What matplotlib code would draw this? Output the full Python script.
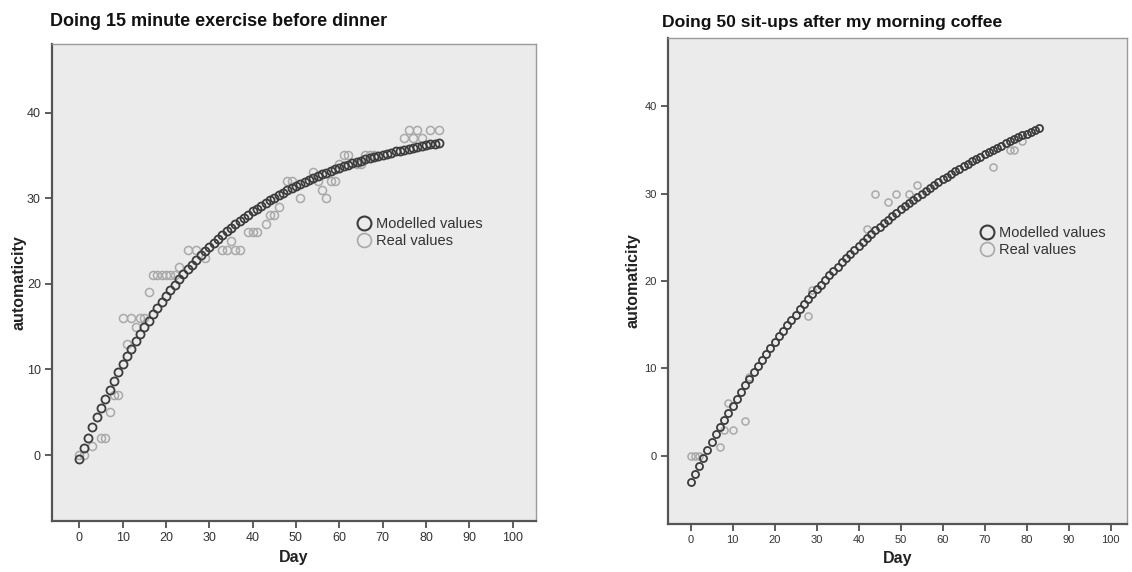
import matplotlib.pyplot as plt
from matplotlib.lines import Line2D

plt.rcParams['font.family'] = ['Liberation Sans', 'DejaVu Sans']

days = list(range(84))

# Doing 15 minute exercise before dinner
model_dinner = [-0.50, 0.78, 2.02, 3.22, 4.39, 5.51, 6.60, 7.65, 8.67, 9.65,
                10.60, 11.52, 12.42, 13.28, 14.11, 14.92, 15.70, 16.46, 17.19, 17.90,
                18.58, 19.25, 19.89, 20.51, 21.11, 21.69, 22.25, 22.80, 23.32, 23.83,
                24.32, 24.80, 25.26, 25.71, 26.14, 26.56, 26.96, 27.35, 27.73, 28.09,
                28.45, 28.79, 29.12, 29.44, 29.75, 30.05, 30.34, 30.62, 30.90, 31.16,
                31.41, 31.66, 31.90, 32.13, 32.35, 32.57, 32.78, 32.98, 33.17, 33.36,
                33.55, 33.72, 33.89, 34.06, 34.22, 34.38, 34.53, 34.67, 34.81, 34.95,
                35.08, 35.21, 35.33, 35.45, 35.56, 35.68, 35.78, 35.89, 35.99, 36.09,
                36.18, 36.27, 36.36, 36.45]
real_dinner_day = [0, 1, 3, 5, 6, 7, 8, 9, 10, 11, 12, 13, 14, 15, 16, 17, 18, 19, 20, 21,
                   22, 23, 25, 27, 29, 33, 34, 35, 36, 37, 39, 40, 41, 43, 44, 45, 46, 48,
                   49, 51, 54, 55, 56, 57, 58, 59, 60, 61, 62, 64, 65, 66, 67, 68, 75, 76,
                   77, 78, 79, 81, 83]
real_dinner_val = [0, 0, 1, 2, 2, 5, 7, 7, 16, 13, 16, 15, 16, 16, 19, 21, 21, 21, 21, 21,
                   21, 22, 24, 24, 23, 24, 24, 25, 24, 24, 26, 26, 26, 27, 28, 28, 29, 32,
                   32, 30, 33, 32, 31, 30, 32, 32, 34, 35, 35, 34, 34, 35, 35, 35, 37, 38,
                   37, 38, 37, 38, 38]

# Doing 50 sit-ups after my morning coffee
model_coffee = [-3.00, -2.05, -1.12, -0.20, 0.70, 1.58, 2.44, 3.29, 4.13, 4.95,
                5.75, 6.54, 7.31, 8.07, 8.82, 9.55, 10.27, 10.97, 11.66, 12.34,
                13.01, 13.66, 14.31, 14.94, 15.56, 16.16, 16.76, 17.34, 17.92, 18.48,
                19.04, 19.58, 20.11, 20.64, 21.15, 21.65, 22.15, 22.63, 23.11, 23.58,
                24.04, 24.49, 24.93, 25.37, 25.79, 26.21, 26.62, 27.02, 27.42, 27.81,
                28.19, 28.56, 28.93, 29.29, 29.65, 29.99, 30.33, 30.67, 31.00, 31.32,
                31.64, 31.95, 32.25, 32.55, 32.84, 33.13, 33.42, 33.69, 33.97, 34.23,
                34.50, 34.75, 35.01, 35.26, 35.50, 35.74, 35.97, 36.20, 36.43, 36.65,
                36.87, 37.08, 37.29, 37.50]
real_coffee_day = [0, 1, 2, 7, 8, 9, 10, 13, 14, 28, 29, 42, 44, 47, 49, 52, 54, 72, 76, 77, 79]
real_coffee_val = [0, 0, 0, 1, 3, 6, 3, 4, 9, 16, 19, 26, 30, 29, 30, 30, 31, 33, 35, 35, 36]

titles = ["Doing 15 minute exercise before dinner", "Doing 50 sit-ups after my morning coffee"]
xticks = list(range(0, 101, 10))
yticks = [0, 10, 20, 30, 40]

model_col = '#3c3c3c'
real_col = '#a9a9a9'

W, H = 1132, 572
fig = plt.figure(figsize=(W / 100, H / 100), dpi=100)
ax1 = fig.add_axes([52 / W, 1 - 521 / H, 484 / W, 477 / H])
ax2 = fig.add_axes([668 / W, 1 - 524 / H, 459 / W, 486 / H])


def draw_panel(ax, model, rday, rval, xlim, ylim, msize, tsize, leg_xy, ylab_x):
    ax.set_facecolor('#ebebeb')
    ax.plot(rday, rval, 'o', ms=msize, mfc='none', mec=real_col, mew=1.1, ls='none')
    ax.plot(days, model, 'o', ms=msize, mfc='none', mec=model_col, mew=1.3, ls='none')
    ax.set_xlim(*xlim)
    ax.set_ylim(*ylim)
    ax.set_xticks(xticks)
    ax.set_yticks(yticks)
    ax.tick_params(direction='out', length=5, width=1.3, color='#505050',
                   labelsize=tsize, labelcolor='#333333', pad=3)
    for s in ['left', 'bottom']:
        ax.spines[s].set_color('#555555')
        ax.spines[s].set_linewidth(1.6)
    for s in ['top', 'right']:
        ax.spines[s].set_color('#9a9a9a')
        ax.spines[s].set_linewidth(1.0)
    ax.set_xlabel('Day', fontsize=11.5, fontweight='bold', color='#222222', labelpad=4)
    ax.set_ylabel('automaticity', fontsize=11.5, fontweight='bold', color='#222222')
    ax.yaxis.set_label_coords(ylab_x, 0.5)
    handles = [Line2D([], [], marker='o', ls='none', ms=10, mfc='none', mec=model_col, mew=1.5),
               Line2D([], [], marker='o', ls='none', ms=10, mfc='none', mec=real_col, mew=1.2)]
    ax.legend(handles, ['Modelled values', 'Real values'], loc='center left',
              bbox_to_anchor=leg_xy, frameon=False, fontsize=10.5, handlelength=1.0,
              handletextpad=0.35, labelspacing=0.2, borderpad=0, borderaxespad=0,
              labelcolor='#333333')


draw_panel(ax1, model_dinner, real_dinner_day, real_dinner_val, (-6.3, 105.4), (-7.7, 48.0),
           5.8, 9, (0.629, 0.604), -0.052)
draw_panel(ax2, model_coffee, real_coffee_day, real_coffee_val, (-5.4, 103.9), (-7.8, 47.8),
           5.1, 8, (0.679, 0.581), -0.061)

fig.text(50 / W, 1 - 22 / H, titles[0], fontsize=13, fontweight='bold', va='center', color='#111111')
fig.text(662 / W, 1 - 22 / H, titles[1], fontsize=12.6, fontweight='bold', va='center', color='#111111')

fig.savefig('out.png', dpi=100, facecolor='white')
